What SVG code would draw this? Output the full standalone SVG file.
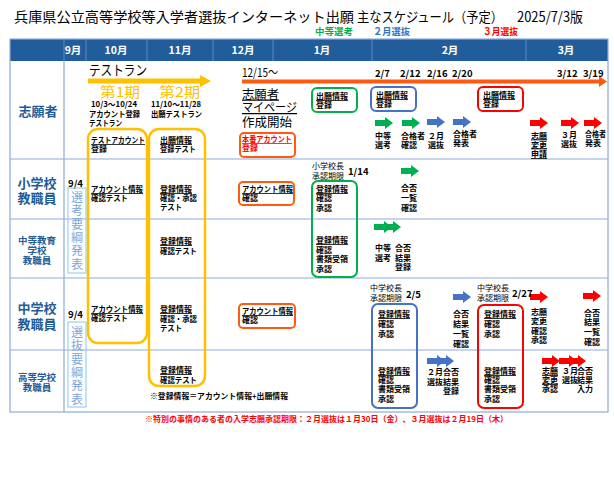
<svg xmlns="http://www.w3.org/2000/svg" width="614" height="480" viewBox="0 0 614 480">
<style>
text{font-family:"Noto Sans CJK JP","Noto Sans CJK SC",sans-serif}
.s{font-size:8px;font-weight:700;fill:#000}
.n{font-size:8px;font-weight:400;fill:#000}
.u{text-decoration:underline}
.hd{font-size:10.5px;font-weight:700;fill:#fff;text-anchor:middle}
.rh{font-size:13px;font-weight:700;fill:#1F5C99;text-anchor:middle}
.rh2{font-size:9.5px;font-weight:700;fill:#1F5C99;text-anchor:middle}
.vt{font-size:12px;fill:#7EA6DA;text-anchor:middle}
.dt{font-size:9.5px;font-weight:700;fill:#000}
.grid{stroke:#8EAADB;stroke-width:1.2;fill:none}
.yb{fill:none;stroke:#FFC000;stroke-width:2.5}
.ob{fill:none;stroke:#FF5A10;stroke-width:2}
.gb{fill:none;stroke:#00B050;stroke-width:2}
.bb{fill:none;stroke:#4472C4;stroke-width:2}
.rb{fill:none;stroke:#FF0000;stroke-width:2}
.vb{fill:none;stroke:#9CCFEE;stroke-width:1.2}
.g{fill:#00B050}.b{fill:#4472C4}.r{fill:#FF0000}
</style>
<defs>
<path id="ar" d="M0,-3 H10 V-6 L18,0 L10,6 V3 H0 Z"/>
</defs>
<rect width="614" height="480" fill="#fff"/>

<g id="title">
<text y="22" font-size="14"><tspan x="14" textLength="340" lengthAdjust="spacingAndGlyphs">兵庫県公立高等学校等入学者選抜インターネット出願</tspan><tspan x="357" textLength="146" lengthAdjust="spacingAndGlyphs">主なスケジュール（予定）</tspan><tspan x="517" textLength="66" lengthAdjust="spacingAndGlyphs">2025/7/3版</tspan></text>
</g>

<g id="phase-labels" font-size="9.5" font-weight="700">
<text x="315" y="35" fill="#00B050" textLength="38" lengthAdjust="spacingAndGlyphs">中等選考</text>
<text x="373" y="35" fill="#2E75C6" textLength="37" lengthAdjust="spacingAndGlyphs">２月選抜</text>
<text x="483" y="35" fill="#FF0000" textLength="35" lengthAdjust="spacingAndGlyphs">３月選抜</text>
</g>

<g id="header">
<rect x="10" y="39" width="598" height="22" fill="#215D9A"/>
<g stroke="#5B8CC4" stroke-width="1">
<line x1="64" y1="39" x2="64" y2="61"/><line x1="86" y1="39" x2="86" y2="61"/>
<line x1="147" y1="39" x2="147" y2="61"/><line x1="213" y1="39" x2="213" y2="61"/>
<line x1="273" y1="39" x2="273" y2="61"/><line x1="372" y1="39" x2="372" y2="61"/>
<line x1="526" y1="39" x2="526" y2="61"/>
</g>
<text class="hd" x="73" y="54">9月</text>
<text class="hd" x="116" y="54">10月</text>
<text class="hd" x="180" y="54">11月</text>
<text class="hd" x="243" y="54">12月</text>
<text class="hd" x="322" y="54">1月</text>
<text class="hd" x="450" y="54">2月</text>
<text class="hd" x="566" y="54">3月</text>
</g>

<g id="grid" class="grid">
<rect x="10" y="39" width="598" height="373"/>
<line x1="64" y1="61" x2="64" y2="412"/>
<line x1="10" y1="159" x2="608" y2="159"/>
<line x1="10" y1="219" x2="608" y2="219"/>
<line x1="10" y1="278" x2="608" y2="278"/>
<line x1="10" y1="350" x2="608" y2="350"/>
</g>

<g id="row-heads">
<text class="rh" x="38" y="116">志願者</text>
<text class="rh" x="37" y="188">小学校</text>
<text class="rh" x="37" y="203">教職員</text>
<text class="rh2" x="37" y="244">中等教育</text>
<text class="rh2" x="37" y="254">学校</text>
<text class="rh2" x="37" y="264">教職員</text>
<text class="rh" x="37" y="313">中学校</text>
<text class="rh" x="37" y="329">教職員</text>
<text class="rh2" x="37" y="381">高等学校</text>
<text class="rh2" x="37" y="391">教職員</text>
</g>

<g id="youkou-1">
<text class="dt" x="68" y="187" textLength="15" lengthAdjust="spacingAndGlyphs">9/4</text>
<rect class="vb" x="68" y="188" width="18" height="85"/>
<text class="vt" x="77" y="202">選</text><text class="vt" x="77" y="215.3">考</text>
<text class="vt" x="77" y="228.6">要</text><text class="vt" x="77" y="241.9">綱</text>
<text class="vt" x="77" y="255.2">発</text><text class="vt" x="77" y="268.5">表</text>
</g>
<g id="youkou-2">
<text class="dt" x="68" y="318" textLength="15" lengthAdjust="spacingAndGlyphs">9/4</text>
<rect class="vb" x="68" y="322" width="18" height="85"/>
<text class="vt" x="77" y="337">選</text><text class="vt" x="77" y="350.3">抜</text>
<text class="vt" x="77" y="363.6">要</text><text class="vt" x="77" y="376.9">綱</text>
<text class="vt" x="77" y="390.2">発</text><text class="vt" x="77" y="403.5">表</text>
</g>

<g id="connectors">
<path d="M88,78.5 H200 V75 L211,81 L200,87 V83.5 H88 Z" fill="#FFC000"/>
<path d="M242,79.5 H599 V76 L607,81.5 L599,87 V83.5 H242 Z" fill="#FF5A10"/>
<use href="#ar" class="g" x="375" y="123"/>
<use href="#ar" class="g" x="402" y="123"/>
<use href="#ar" class="b" x="427" y="122"/>
<use href="#ar" class="b" x="453" y="122"/>
<use href="#ar" class="r" x="530" y="123"/>
<use href="#ar" class="r" x="561" y="123"/>
<use href="#ar" class="r" x="584" y="123"/>
<use href="#ar" class="g" x="401" y="171"/>
<use href="#ar" class="g" x="374" y="227"/>
<use href="#ar" class="g" x="383" y="227"/>
<use href="#ar" class="b" x="453" y="297"/>
<use href="#ar" class="r" x="530" y="297"/>
<use href="#ar" class="r" x="583" y="296"/>
<use href="#ar" class="b" x="427" y="361"/>
<use href="#ar" class="b" x="436" y="361"/>
<use href="#ar" class="r" x="542" y="361"/>
<use href="#ar" class="r" x="559" y="361"/>
<use href="#ar" class="r" x="568" y="361"/>
</g>

<g id="testrun">
<text x="89" y="75" font-size="14" textLength="58" lengthAdjust="spacingAndGlyphs">テストラン</text>
<text x="100" y="97" font-size="13.5" fill="#FFC000" textLength="40" lengthAdjust="spacingAndGlyphs">第1期</text>
<text x="159" y="97" font-size="13.5" fill="#FFC000" textLength="41" lengthAdjust="spacingAndGlyphs">第2期</text>
<text class="s" x="91" y="107" textLength="46" lengthAdjust="spacingAndGlyphs">10/3～10/24</text>
<text class="s" x="89" y="117" textLength="51" lengthAdjust="spacingAndGlyphs">アカウント登録</text>
<text class="s" x="89" y="126" textLength="33" lengthAdjust="spacingAndGlyphs">テストラン</text>
<text class="s" x="151" y="107" textLength="50" lengthAdjust="spacingAndGlyphs">11/10～11/28</text>
<text class="s" x="151" y="117" textLength="51" lengthAdjust="spacingAndGlyphs">出願テストラン</text>
</g>

<g id="phase1-box">
<rect class="yb" x="88" y="129" width="59" height="214" rx="10"/>
<text class="s u" x="91" y="143" textLength="54" lengthAdjust="spacingAndGlyphs">テストアカウント</text>
<text class="s" x="91" y="152">登録</text>
<text class="s u" x="91" y="192" textLength="52" lengthAdjust="spacingAndGlyphs">アカウント情報</text>
<text class="s" x="91" y="201" textLength="37" lengthAdjust="spacingAndGlyphs">確認テスト</text>
<text class="s u" x="91" y="312" textLength="52" lengthAdjust="spacingAndGlyphs">アカウント情報</text>
<text class="s" x="91" y="321" textLength="37" lengthAdjust="spacingAndGlyphs">確認テスト</text>
</g>

<g id="phase2-box">
<rect class="yb" x="149" y="129" width="56" height="257" rx="10"/>
<text class="s u" x="160" y="143">出願情報</text>
<text class="s" x="160" y="152" textLength="36" lengthAdjust="spacingAndGlyphs">登録テスト</text>
<text class="s u" x="160" y="192">登録情報</text>
<text class="s" x="160" y="201" textLength="37" lengthAdjust="spacingAndGlyphs">確認・承認</text>
<text class="s" x="160" y="210" textLength="22" lengthAdjust="spacingAndGlyphs">テスト</text>
<text class="s u" x="160" y="244">登録情報</text>
<text class="s" x="160" y="254" textLength="37" lengthAdjust="spacingAndGlyphs">確認テスト</text>
<text class="s u" x="160" y="312">登録情報</text>
<text class="s" x="160" y="322" textLength="37" lengthAdjust="spacingAndGlyphs">確認・承認</text>
<text class="s" x="160" y="331" textLength="22" lengthAdjust="spacingAndGlyphs">テスト</text>
<text class="s u" x="160" y="373">登録情報</text>
<text class="s" x="160" y="383" textLength="37" lengthAdjust="spacingAndGlyphs">確認テスト</text>
</g>

<g id="note-touroku">
<text class="s" x="150" y="399" textLength="138" lengthAdjust="spacingAndGlyphs">※登録情報＝アカウント情報+出願情報</text>
</g>

<g id="mypage">
<text x="242" y="77" font-size="12" textLength="36" lengthAdjust="spacingAndGlyphs">12/15～</text>
<text x="242" y="98.5" font-size="12.5" class="u" textLength="37" lengthAdjust="spacingAndGlyphs">志願者</text>
<text x="242" y="112" font-size="12.5" class="u" textLength="55" lengthAdjust="spacingAndGlyphs">マイページ</text>
<text x="242" y="127" font-size="12.5" textLength="50" lengthAdjust="spacingAndGlyphs">作成開始</text>
</g>

<g id="honban-box">
<rect class="ob" x="240" y="133" width="55" height="24" rx="4"/>
<text class="s u" x="242" y="142" style="fill:#FF0000" textLength="50" lengthAdjust="spacingAndGlyphs">本番アカウント</text>
<text class="s" x="242" y="151" style="fill:#FF0000">登録</text>
</g>
<g id="account-box-1">
<rect class="ob" x="239" y="182" width="55" height="23" rx="4"/>
<text class="s u" x="242" y="192" textLength="51" lengthAdjust="spacingAndGlyphs">アカウント情報</text>
<text class="s" x="242" y="201">確認</text>
</g>
<g id="account-box-2">
<rect class="ob" x="239" y="304" width="56" height="24" rx="4"/>
<text class="s u" x="242" y="314" textLength="51" lengthAdjust="spacingAndGlyphs">アカウント情報</text>
<text class="s" x="242" y="323">確認</text>
</g>

<g id="apply-green">
<rect class="gb" x="312" y="88" width="45" height="24" rx="5"/>
<text class="s u" x="316" y="99">出願情報</text>
<text class="s" x="316" y="108">登録</text>
</g>
<g id="apply-blue">
<rect class="bb" x="371" y="87" width="45" height="24" rx="5"/>
<text class="s u" x="376" y="98">出願情報</text>
<text class="s" x="376" y="107">登録</text>
</g>
<g id="apply-red">
<rect class="rb" x="478" y="87" width="45" height="24" rx="5"/>
<text class="s u" x="483" y="98">出願情報</text>
<text class="s" x="483" y="107">登録</text>
</g>

<g id="dates">
<text class="dt" x="375" y="77">2/7</text>
<text class="dt" x="400" y="77">2/12</text>
<text class="dt" x="427" y="77">2/16</text>
<text class="dt" x="452" y="77">2/20</text>
<text class="dt" x="557" y="77">3/12</text>
<text class="dt" x="583" y="77">3/19</text>
</g>

<g id="applicant-steps">
<text class="s" x="375" y="139">中等</text><text class="s" x="375" y="148">選考</text>
<text class="s" x="401" y="139">合格者</text><text class="s" x="401" y="148">確認</text>
<text class="s" x="428" y="139">２月</text><text class="s" x="428" y="148">選抜</text>
<text class="s" x="453" y="137">合格者</text><text class="s" x="453" y="146">発表</text>
<text class="s u" x="531" y="138.5">志願</text><text class="s u" x="531" y="147.5">変更</text><text class="s u" x="531" y="157">申請</text>
<text class="s" x="561" y="138">３月</text><text class="s" x="561" y="147">選抜</text>
<text class="s" x="585" y="137" textLength="21" lengthAdjust="spacingAndGlyphs">合格者</text><text class="s" x="585" y="146">発表</text>
</g>

<g id="shou-approval">
<text class="n" x="312" y="169">小学校長</text>
<text class="n" x="312" y="179">承認期限</text>
<text class="dt" x="348" y="175" font-size="9">1/14</text>
</g>
<g id="green-confirm">
<rect class="gb" x="312" y="181" width="45" height="96" rx="6"/>
<text class="s u" x="316" y="192">登録情報</text>
<text class="s" x="316" y="201">確認</text>
<text class="s" x="316" y="211">承認</text>
<text class="s u" x="316" y="243">登録情報</text>
<text class="s" x="316" y="253">確認</text>
<text class="s" x="316" y="262">書類受領</text>
<text class="s" x="316" y="272">承認</text>
</g>
<g id="shou-result">
<text class="s" x="401" y="191">合否</text>
<text class="s" x="401" y="201">一覧</text>
<text class="s" x="401" y="211">確認</text>
</g>
<g id="chuto-result">
<text class="s" x="375" y="251">中等</text><text class="s" x="375" y="261">選考</text>
<text class="s" x="395" y="251">合否</text><text class="s" x="395" y="261">結果</text><text class="s" x="395" y="270">登録</text>
</g>

<g id="chu-approval-feb">
<text class="n" x="370" y="291">中学校長</text>
<text class="n" x="370" y="301">承認期限</text>
<text class="dt" x="406" y="298" font-size="9">2/5</text>
</g>
<g id="blue-confirm">
<rect class="bb" x="372" y="304" width="45" height="104" rx="6"/>
<text class="s u" x="378" y="317">登録情報</text>
<text class="s" x="378" y="327">確認</text>
<text class="s" x="378" y="337">承認</text>
<text class="s u" x="378" y="374">登録情報</text>
<text class="s" x="378" y="383">確認</text>
<text class="s" x="378" y="392">書類受領</text>
<text class="s" x="378" y="402">承認</text>
</g>
<g id="feb-result">
<text class="s" x="453" y="317">合否</text><text class="s" x="453" y="327">結果</text>
<text class="s" x="453" y="337">一覧</text><text class="s" x="453" y="347">確認</text>
<text class="s" x="427" y="375">２月</text><text class="s" x="427" y="385">選抜</text>
<text class="s" x="443" y="375">合否</text><text class="s" x="443" y="385">結果</text><text class="s" x="443" y="394">登録</text>
</g>

<g id="chu-approval-mar">
<text class="n" x="477" y="291">中学校長</text>
<text class="n" x="477" y="301">承認期限</text>
<text class="dt" x="512" y="297" font-size="9">2/27</text>
</g>
<g id="red-confirm">
<rect class="rb" x="478" y="305" width="45" height="103" rx="6"/>
<text class="s u" x="484" y="317">登録情報</text>
<text class="s" x="484" y="327">確認</text>
<text class="s" x="484" y="337">承認</text>
<text class="s u" x="484" y="374">登録情報</text>
<text class="s" x="484" y="383">確認</text>
<text class="s" x="484" y="392">書類受領</text>
<text class="s" x="484" y="402">承認</text>
</g>
<g id="mar-result">
<text class="s" x="531" y="315">志願</text><text class="s" x="531" y="324">変更</text>
<text class="s" x="531" y="334">確認</text><text class="s" x="531" y="343">承認</text>
<text class="s" x="584" y="316">合否</text><text class="s" x="584" y="325">結果</text>
<text class="s" x="584" y="335">一覧</text><text class="s" x="584" y="345">確認</text>
<text class="s u" x="542" y="374">志願</text><text class="s u" x="542" y="383">変更</text><text class="s" x="542" y="392">承認</text>
<text class="s" x="562" y="374">３月</text><text class="s" x="562" y="383">選抜</text>
<text class="s" x="577" y="374">合否</text><text class="s" x="577" y="383">結果</text><text class="s" x="577" y="392">入力</text>
</g>

<g id="footnote">
<text class="s" x="145" y="422" style="fill:#FF0000" textLength="363" lengthAdjust="spacingAndGlyphs">※特別の事情のある者の入学志願承認期限：２月選抜は１月30日（金）、３月選抜は２月19日（木）</text>
</g>
</svg>
